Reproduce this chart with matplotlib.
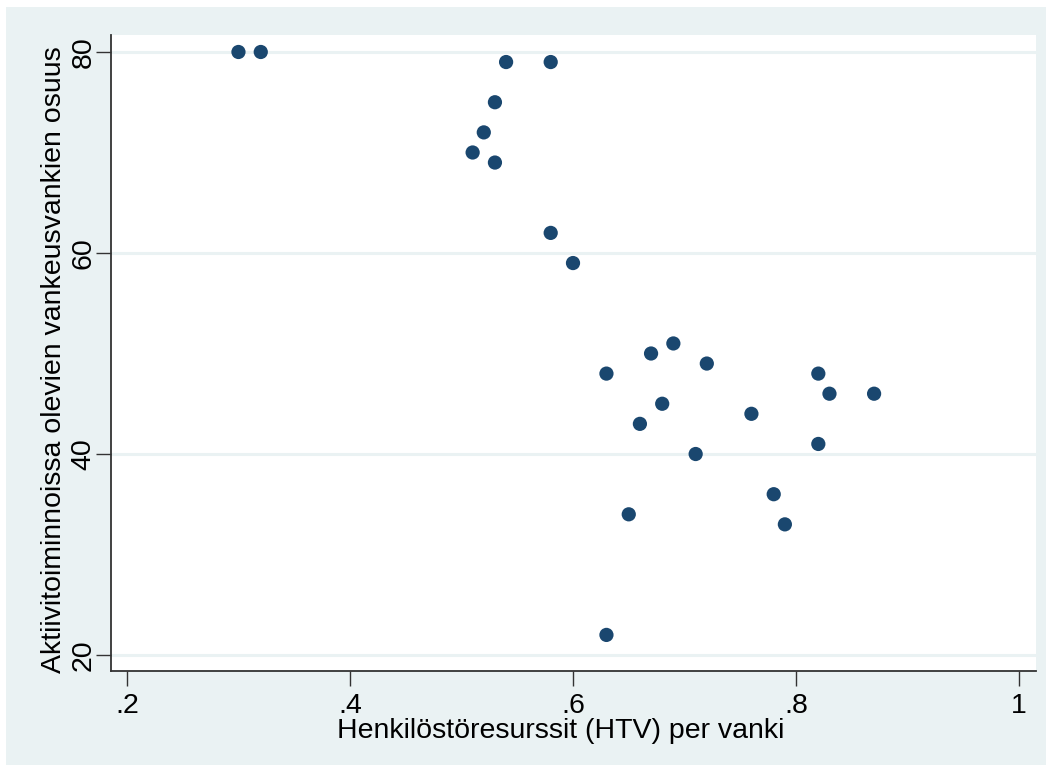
import matplotlib.pyplot as plt
from matplotlib.patches import Rectangle

# HTV per prisoner vs share of prisoners in activities
htv = [0.30, 0.32, 0.54, 0.58, 0.53, 0.52, 0.51, 0.53, 0.58, 0.60,
       0.63, 0.67, 0.69, 0.72, 0.68, 0.66, 0.76, 0.71, 0.82, 0.83,
       0.87, 0.82, 0.78, 0.79, 0.65, 0.63]
osuus = [80, 80, 79, 79, 75, 72, 70, 69, 62, 59,
         48, 50, 51, 49, 45, 43, 44, 40, 48, 46,
         46, 41, 36, 33, 34, 22]

x_ticks = [0.2, 0.4, 0.6, 0.8, 1.0]
x_tick_labels = [".2", ".4", ".6", ".8", "1"]
y_ticks = [20, 40, 60, 80]

BG = "#EAF2F3"
NAVY = "#1A476F"

plt.rcParams["font.family"] = ["Liberation Sans", "DejaVu Sans"]

W, H = 1050, 772
fig = plt.figure(figsize=(W / 100, H / 100), dpi=100)
fig.patch.set_facecolor("white")
fig.patches.append(Rectangle((6 / W, 1 - 765 / H), 1040 / W, 758 / H,
                             transform=fig.transFigure, facecolor=BG,
                             edgecolor="none", zorder=-10))

ax = fig.add_axes([111 / W, 1 - 671 / H, 925 / W, 636 / H])
ax.set_zorder(1)
ax.set_facecolor("white")
ax.scatter(htv, osuus, s=105, color=NAVY, edgecolors="none", zorder=3)

ax.set_xlim(0.1857, 1.0152)
ax.set_ylim(18.41, 81.69)
ax.set_xticks(x_ticks)
ax.set_xticklabels(x_tick_labels)
ax.set_yticks(y_ticks)
ax.set_yticklabels([str(v) for v in y_ticks], rotation=90, va="center")

ax.yaxis.grid(True, color=BG, linewidth=2.2)
ax.set_axisbelow(True)
for side in ("top", "right"):
    ax.spines[side].set_visible(False)
for side in ("left", "bottom"):
    ax.spines[side].set_color("#333333")
    ax.spines[side].set_linewidth(1.3)

ax.tick_params(axis="both", direction="out", length=11, width=1,
               color="#333333", labelsize=20.5)
ax.tick_params(axis="x", pad=5)
ax.tick_params(axis="y", pad=-0.5)

ax.set_xlabel("Henkilöstöresurssit (HTV) per vanki", fontsize=20.5, va="center")
ax.xaxis.set_label_coords(0.486, -0.094)
ax.set_ylabel("Aktiivitoiminnoissa olevien vankeusvankien osuus",
              fontsize=20.5, va="center")
ax.yaxis.set_label_coords(-0.062, 0.489)

fig.savefig("out.png", dpi=100, facecolor=fig.get_facecolor())
